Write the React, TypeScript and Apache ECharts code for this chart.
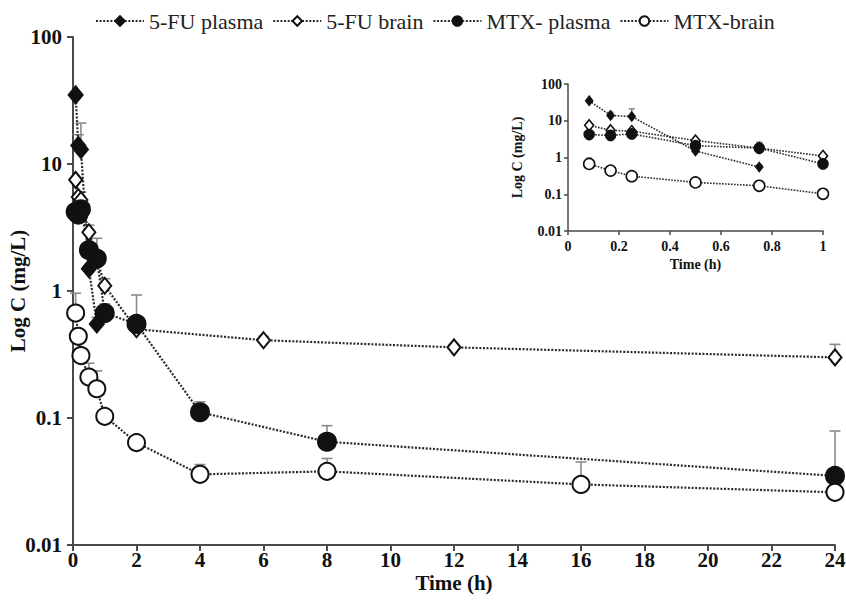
import React, { useEffect, useRef } from "react";
import * as echarts from "echarts";

// ---- data ----
const fuPlasmaT = [0.083, 0.167, 0.25, 0.5, 0.75];
const fuPlasma = [35, 14, 13, 1.5, 0.55];
const fuPlasmaUp = [null, 17, 21, 1.9, 0.62];

const fuBrainT = [0.083, 0.167, 0.25, 0.5, 0.75, 1, 2, 6, 12, 24];
const fuBrain = [7.5, 5.5, 5.2, 2.9, 1.8, 1.1, 0.5, 0.41, 0.36, 0.3];
const fuBrainUp = [null, null, 6, 3.3, null, 1.25, null, 0.44, 0.38, 0.38];

const mtxPlasmaT = [0.083, 0.167, 0.25, 0.5, 0.75, 1, 2, 4, 8, 24];
const mtxPlasma = [4.2, 4, 4.4, 2.1, 1.8, 0.67, 0.55, 0.111, 0.065, 0.035];
const mtxPlasmaUp = [null, null, null, null, 2.6, 0.79, 0.93, 0.134, 0.087, 0.079];

const mtxBrainT = [0.083, 0.167, 0.25, 0.5, 0.75, 1, 2, 4, 8, 16, 24];
const mtxBrain = [0.67, 0.44, 0.31, 0.21, 0.17, 0.103, 0.064, 0.036, 0.038, 0.03, 0.026];
const mtxBrainUp = [0.96, null, null, 0.27, 0.235, null, null, 0.043, 0.048, 0.045, 0.03];

const names = ["5-FU plasma", "5-FU brain", "MTX- plasma", "MTX-brain"];

const FONT = "'Liberation Serif', 'Times New Roman', serif";
const LINE = { color: "#2a2a2a", width: 2.2, type: [2, 1.6] as number[] };

type Sty = { symbol: string; fill: string; size: number | number[]; inSize: number | number[] };
const styles: Sty[] = [
  { symbol: "diamond", fill: "#111", size: [14, 17], inSize: [7, 9] },
  { symbol: "diamond", fill: "#fff", size: [13, 16], inSize: [9, 11] },
  { symbol: "circle", fill: "#111", size: 18, inSize: 10 },
  { symbol: "circle", fill: "#fff", size: 17, inSize: 11 },
];

const sets = [
  { t: fuPlasmaT, v: fuPlasma, u: fuPlasmaUp },
  { t: fuBrainT, v: fuBrain, u: fuBrainUp },
  { t: mtxPlasmaT, v: mtxPlasma, u: mtxPlasmaUp },
  { t: mtxBrainT, v: mtxBrain, u: mtxBrainUp },
];

function pairs(t: number[], v: number[], maxT: number) {
  const out: number[][] = [];
  t.forEach((x, i) => {
    if (x <= maxT) out.push([x, v[i]]);
  });
  return out;
}

function errData(t: number[], v: number[], u: (number | null)[], maxT: number) {
  const out: number[][] = [];
  t.forEach((x, i) => {
    const up = u[i];
    if (x <= maxT && up != null) out.push([x, v[i], up]);
  });
  return out;
}

function errSeries(name: string, data: number[][], gi: number, capW: number) {
  return {
    type: "custom",
    name,
    xAxisIndex: gi,
    yAxisIndex: gi,
    z: 1,
    silent: true,
    encode: { x: 0, y: [1, 2] },
    data,
    renderItem: (_p: any, api: any) => {
      const x = api.value(0);
      const p0 = api.coord([x, api.value(1)]);
      const p1 = api.coord([x, api.value(2)]);
      const st = { stroke: "#8a8a8a", lineWidth: 1.6 };
      return {
        type: "group",
        children: [
          { type: "line", shape: { x1: p0[0], y1: p0[1], x2: p1[0], y2: p1[1] }, style: st },
          { type: "line", shape: { x1: p1[0] - capW / 2, y1: p1[1], x2: p1[0] + capW / 2, y2: p1[1] }, style: st },
        ],
      };
    },
  };
}

export default function App() {
  const ref = useRef<HTMLDivElement>(null);
  useEffect(() => {
    if (!ref.current) return;
    const chart = echarts.init(ref.current, null, { renderer: "svg" });

    const series: any[] = [];
    sets.forEach((s, i) => {
      series.push(errSeries("err-main-" + i, errData(s.t, s.v, s.u, 100), 0, 11));
      series.push(errSeries("err-inset-" + i, errData(s.t, s.v, s.u, 1), 1, 6));
    });
    sets.forEach((s, i) => {
      const st = styles[i];
      series.push({
        type: "line",
        name: names[i],
        xAxisIndex: 0,
        yAxisIndex: 0,
        z: 3,
        data: pairs(s.t, s.v, 100),
        symbol: st.symbol,
        symbolSize: st.size,
        showAllSymbol: true,
        lineStyle: LINE,
        itemStyle: { color: st.fill, borderColor: "#111", borderWidth: 2, opacity: 1 },
      });
      series.push({
        type: "line",
        name: names[i],
        xAxisIndex: 1,
        yAxisIndex: 1,
        z: 3,
        data: pairs(s.t, s.v, 1),
        symbol: st.symbol,
        symbolSize: st.inSize,
        showAllSymbol: true,
        lineStyle: { color: "#2a2a2a", width: 1.6, type: [1.6, 1.4] },
        itemStyle: { color: st.fill, borderColor: "#111", borderWidth: 1.6, opacity: 1 },
      });
    });

    const axisLine = { show: true, lineStyle: { color: "#4a4a4a", width: 2 } };

    chart.setOption({
      animation: false,
      backgroundColor: "#fff",
      legend: {
        data: names,
        left: 90,
        top: 5,
        itemWidth: 48,
        itemHeight: 12,
        itemGap: 9,
        textStyle: { fontFamily: FONT, fontSize: 22, color: "#222" },
      },
      grid: [
        { left: 73, right: 11, top: 37, bottom: 57, outerBoundsMode: "none" },
        { left: 568, top: 84, width: 255, height: 147, outerBoundsMode: "none" },
      ],
      xAxis: [
        {
          type: "value",
          gridIndex: 0,
          min: 0,
          max: 24,
          interval: 2,
          name: "Time (h)",
          nameLocation: "middle",
          nameGap: 27,
          nameMoveOverlap: false,
          nameTextStyle: { fontFamily: FONT, fontSize: 21, fontWeight: "bold", color: "#111" },
          axisLine,
          axisTick: { show: true, length: 6, lineStyle: { color: "#4a4a4a", width: 2 } },
          axisLabel: { margin: 4, fontFamily: FONT, fontSize: 21, fontWeight: "bold", color: "#111" },
          splitLine: { show: false },
        },
        {
          type: "value",
          gridIndex: 1,
          min: 0,
          max: 1,
          interval: 0.2,
          name: "Time (h)",
          nameLocation: "middle",
          nameGap: 26,
          nameMoveOverlap: false,
          nameTextStyle: { fontFamily: FONT, fontSize: 14, fontWeight: "bold", color: "#111" },
          axisLine: { show: true, lineStyle: { color: "#4a4a4a", width: 1.5 } },
          axisTick: { show: true, length: 4, lineStyle: { color: "#4a4a4a", width: 1.5 } },
          axisLabel: { margin: 8, fontFamily: FONT, fontSize: 14, fontWeight: "bold", color: "#111" },
          splitLine: { show: false },
        },
      ],
      yAxis: [
        {
          type: "log",
          gridIndex: 0,
          logBase: 10,
          min: 0.01,
          max: 100,
          name: "Log C (mg/L)",
          nameLocation: "middle",
          nameGap: 45,
          nameMoveOverlap: false,
          nameTextStyle: { fontFamily: FONT, fontSize: 21, fontWeight: "bold", color: "#111" },
          axisLine,
          axisTick: { show: true, length: 6, lineStyle: { color: "#4a4a4a", width: 2 } },
          axisLabel: {
            margin: 11,
            fontFamily: FONT,
            fontSize: 21,
            fontWeight: "bold",
            color: "#111",
            formatter: (v: number) => String(+v.toPrecision(3)),
          },
          splitLine: { show: false },
        },
        {
          type: "log",
          gridIndex: 1,
          logBase: 10,
          min: 0.01,
          max: 100,
          name: "Log C (mg/L)",
          nameLocation: "middle",
          nameGap: 44,
          nameMoveOverlap: false,
          nameTextStyle: { fontFamily: FONT, fontSize: 14, fontWeight: "bold", color: "#111" },
          axisLine: { show: true, lineStyle: { color: "#4a4a4a", width: 1.5 } },
          axisTick: { show: true, length: 4, lineStyle: { color: "#4a4a4a", width: 1.5 } },
          axisLabel: {
            margin: 6,
            fontFamily: FONT,
            fontSize: 14,
            fontWeight: "bold",
            color: "#111",
            formatter: (v: number) => String(+v.toPrecision(3)),
          },
          splitLine: { show: false },
        },
      ],
      series,
    });
    return () => chart.dispose();
  }, []);
  return (
    <div
      ref={ref}
      style={{ position: "absolute", left: 0, top: 0, width: 846, height: 602 }}
    />
  );
}
